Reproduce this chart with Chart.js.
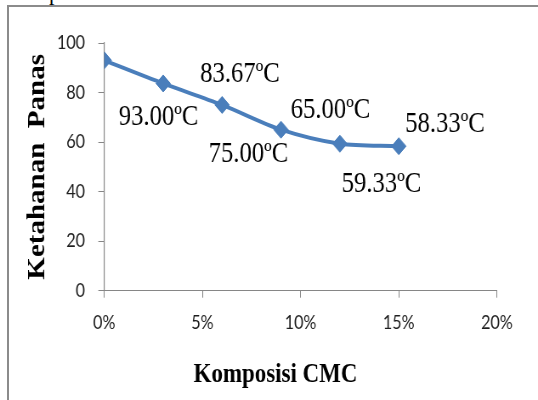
<!DOCTYPE html>
<html>
<head>
<meta charset="utf-8">
<script src="https://cdn.jsdelivr.net/npm/chart.js@4/dist/chart.umd.min.js"></script>
<style>
  html, body { margin: 0; padding: 0; background: #fff; width: 538px; height: 400px; overflow: hidden; }
  #frame { position: absolute; left: 7px; top: 4.5px; width: 620px; height: 500px;
           border-left: 2px solid #8b8b8b; border-top: 2px solid #8b8b8b; }
  #above { position: absolute; left: 49px; top: -18px; font: 22px/22px "Liberation Serif", serif; color: #000; }
  #wrap { position: absolute; left: 0; top: 0; width: 633px; height: 400px;
          transform: scaleX(0.84992); transform-origin: 0 0; }
</style>
</head>
<body>
<div id="above">p</div>
<div id="frame"></div>
<div id="wrap"><canvas id="chart" width="633" height="400"></canvas></div>
<script>
// CMC composition (%) and measured heat resistance (°C)
const composition = [0, 3, 6, 9, 12, 15];
const heatResistance = [93.00, 83.67, 75.00, 65.00, 59.33, 58.33];
const xTicks = [0, 5, 10, 15, 20];
const yTicks = [0, 20, 40, 60, 80, 100];
const xTitle = 'Komposisi CMC';
const yTitle = 'Ketahanan  Panas';

// where each value label sits relative to its point (dx, baseline dy)
const labelOffsets = [[63.8, 64.7], [90.4, -1.5], [31.1, 56.8], [58.2, -11.7], [48.9, 48], [54.3, -14.5]];

const valueLabels = {
  id: 'valueLabels',
  afterDatasetsDraw(chart) {
    const ctx = chart.ctx;
    const meta = chart.getDatasetMeta(0);
    ctx.save();
    ctx.font = '29px "Liberation Serif"';
    ctx.fillStyle = '#000';
    ctx.textAlign = 'center';
    ctx.textBaseline = 'alphabetic';
    meta.data.forEach((pt, i) => {
      const [dx, dy] = labelOffsets[i];
      ctx.fillText(heatResistance[i].toFixed(2) + 'ºC', pt.x + dx, pt.y + dy);
    });
    ctx.restore();
  }
};

// x axis title, set a little left of the plot centre
const xAxisTitle = {
  id: 'xAxisTitle',
  afterDraw(chart) {
    const ctx = chart.ctx;
    const area = chart.chartArea;
    ctx.save();
    ctx.font = 'bold 27px "Liberation Serif"';
    ctx.fillStyle = '#000';
    ctx.textAlign = 'center';
    ctx.textBaseline = 'middle';
    ctx.fillText(xTitle, (area.left + area.right) / 2 - 29.6, chart.height - 25);
    ctx.restore();
  }
};

const axisGray = '#868686';
const tickFont = { family: 'Lato', size: 19 };

new Chart(document.getElementById('chart'), {
  type: 'line',
  data: {
    datasets: [{
      data: composition.map((x, i) => ({ x, y: heatResistance[i] })),
      borderColor: '#4a7ebb',
      backgroundColor: '#4a7ebb',
      borderWidth: 4,
      tension: 0.3,
      pointStyle: 'rectRot',
      pointRadius: 8.5,
      pointBorderWidth: 1,
      pointBorderColor: '#4a7ebb',
      pointBackgroundColor: '#4a7ebb',
      fill: false
    }]
  },
  options: {
    responsive: false,
    maintainAspectRatio: false,
    animation: false,
    devicePixelRatio: 1,
    layout: { padding: { top: 43, right: 48.3, bottom: 0, left: 0 } },
    plugins: { legend: { display: false }, tooltip: { enabled: false } },
    scales: {
      x: {
        type: 'linear',
        min: 0, max: 20,
        afterBuildTicks: s => { s.ticks = xTicks.map(v => ({ value: v })); },
        afterFit: s => { s.height = 109.3; },
        grid: { drawOnChartArea: false, drawTicks: true, tickLength: 7, color: axisGray },
        border: { display: true, color: axisGray, width: 1 },
        ticks: { font: tickFont, color: '#1e1e1e', padding: 13.4, maxRotation: 0, callback: v => v + '%' },
        title: { display: false }
      },
      y: {
        min: 0, max: 100,
        afterBuildTicks: s => { s.ticks = yTicks.map(v => ({ value: v })); },
        afterFit: s => { s.width = 122.7; },
        grid: { drawOnChartArea: false, drawTicks: true, tickLength: 7, color: axisGray },
        border: { display: true, color: axisGray, width: 1.2 },
        ticks: { font: tickFont, color: '#1e1e1e', padding: 15.7 },
        title: {
          display: true, text: yTitle, color: '#000',
          font: { family: 'Liberation Serif', size: 29, weight: 'bold' },
          padding: { top: 27.3, bottom: 0 }
        }
      }
    }
  },
  plugins: [valueLabels, xAxisTitle]
});
</script>
</body>
</html>
